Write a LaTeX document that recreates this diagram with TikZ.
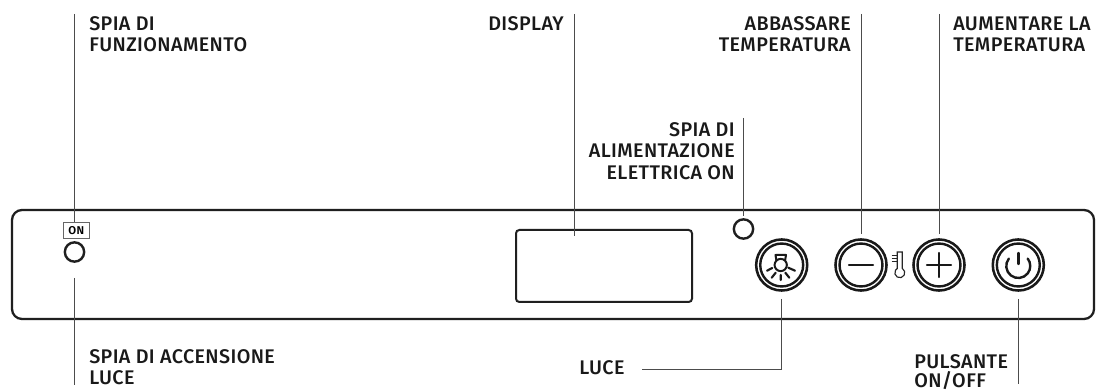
\documentclass[tikz,border=0pt]{standalone}
\usepackage{fontspec}
\setmainfont{Fira Sans Medium}[BoldFont={Fira Sans SemiBold},LetterSpace=2]
\tikzset{
  x=0.75pt,y=-0.75pt,
  lab/.style={inner sep=0pt,font=\fontsize{14.8pt}{16pt}\selectfont,text=black!90,align=left,anchor=north west},
  labr/.style={lab,align=right,anchor=north east},
  lead/.style={line width=0.65pt,black!70},
  heavy/.style={line width=1.7pt,black!88},
  led/.style={circle,draw=black!88,line width=1.8pt,minimum size=14.5pt,inner sep=0pt},
  outerbtn/.style={circle,draw=black!90,line width=1.9pt,minimum size=38.3pt,inner sep=0pt},
  innerbtn/.style={circle,draw=black!90,line width=1.8pt,minimum size=32.2pt,inner sep=0pt},
  sym/.style={line width=1.8pt,black!90,line cap=round},
}
\begin{document}
\begin{tikzpicture}
\useasboundingbox (0,0) rectangle (1096,391);
\fill[white] (0,0) rectangle (1096,391);
% panel
\draw[heavy,rounded corners=7.5pt] (12,210) rectangle (1094,319);
% display
\node[draw=black!88,line width=1.5pt,rounded corners=2.5pt,minimum width=132pt,minimum height=54pt,inner sep=0pt] (disp) at (604,266) {};
% leds
\node[draw=black!60,line width=0.9pt,inner sep=0pt,minimum width=19.5pt,minimum height=12pt,font=\fontsize{8.5pt}{8.5pt}\selectfont\bfseries] (onbox) at (76.3,230.3) {ON};
\node[led] (led1) at (74.5,252) {};
\node[led] (led2) at (743.5,229) {};
% buttons
\foreach \n/\xx in {light/781.7,minus/861,plus/939,power/1018.3}{
  \node[outerbtn] (\n) at (\xx,265) {};
  \node[innerbtn] (\n i) at (\xx,265) {};
}
% minus / plus
\draw[sym] (849,265) -- (873,265);
\draw[sym] (927,265) -- (951,265) (939,253) -- (939,277);
% power
\draw[sym] (1008.8,258.6) arc[start angle=142,end angle=398,radius=9pt];
\draw[sym] (1018.3,253) -- (1018.3,264);
% bulb
\draw[line width=1.5pt,black!90,line join=round] (776.5,261) -- (775.5,255) -- (786,255) -- (785,261);
\draw[line width=1.5pt,black!90] (780.7,265) circle[radius=4.6pt];
\draw[sym,line width=1.6pt] (767,270.7) -- (772.3,268) (771.7,277.7) -- (775.7,272.7) (780.7,280) -- (780.7,275) (789.3,277.7) -- (785.3,272.7) (795,270.7) -- (788.3,267.7);
% thermometer
\draw[line width=0.85pt,black!85] (897.3,252) -- (902.3,252) -- (902.3,268.4) arc[start angle=60,end angle=-240,radius=3.75pt] -- cycle;
\draw[line width=0.7pt,black!85] (891.7,255) -- (896.5,255) (891.7,258.3) -- (896.5,258.3) (891.7,261.7) -- (896.5,261.7);
% leaders
\coordinate (t1) at (74.5,14);
\coordinate (b1) at (74.5,385);
\coordinate (t2) at (574,14);
\coordinate (t3) at (743.5,118);
\coordinate (t4) at (861,14);
\coordinate (t5) at (939,14);
\coordinate (c1) at (781.7,369);
\coordinate (e1) at (642,369);
\coordinate (b2) at (1018.3,384);
\draw[lead] (t1) -- (74.5,222);
\draw[lead] (74.5,278) -- (b1);
\draw[lead] (t2) -- (574,236);
\draw[lead] (t3) -- (743.5,216);
\draw[lead] (t4) -- (861,234);
\draw[lead] (t5) -- (939,234);
\draw[lead] (781.7,299) -- (c1) -- (e1);
\draw[lead] (1018.3,299) -- (b2);
% labels (north anchors: cap top = baseline - 13.6)
\node[lab] (l1) at (89,16.4) {SPIA DI\\FUNZIONAMENTO};
\node[labr] (l2) at (564,16.4) {DISPLAY};
\node[labr] (l3) at (851,16.4) {ABBASSARE\\TEMPERATURA};
\node[lab] (l4) at (953,16.4) {AUMENTARE LA\\TEMPERATURA};
\node[labr] (l5) at (735,122.4) {SPIA DI\\ALIMENTAZIONE\\ELETTRICA ON};
\node[lab] (l6) at (89,349.4) {SPIA DI ACCENSIONE\\LUCE};
\node[lab] (l7) at (579,360.4) {LUCE};
\node[lab] (l8) at (914,354.4) {PULSANTE\\[-1.5pt]ON/OFF};
\end{tikzpicture}
\end{document}
